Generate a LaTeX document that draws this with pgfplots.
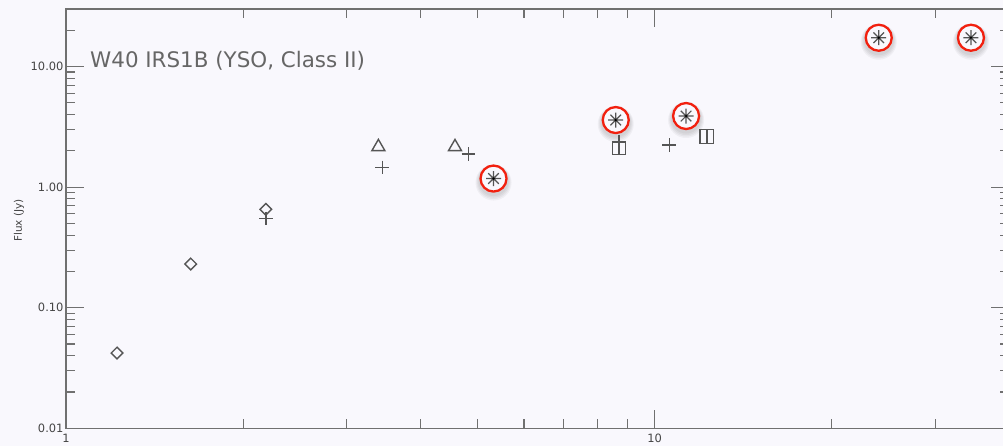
\documentclass[border=0pt]{standalone}
\usepackage{fontspec}
\setmainfont{DejaVu Sans}
\usepackage{pgfplots}
\pgfplotsset{compat=1.18}

\definecolor{bgc}{HTML}{F9F8FD}
\definecolor{axisgray}{HTML}{707070}
\definecolor{markgray}{HTML}{555555}
\definecolor{ringred}{HTML}{F2200F}
\definecolor{titlegray}{HTML}{666666}
\definecolor{labelgray}{HTML}{444444}

% diamond drawn as a square turned by 45 degrees
\pgfdeclareplotmark{rdiamond}{%
  \pgfpathmoveto{\pgfqpoint{0pt}{\pgfplotmarksize}}%
  \pgfpathlineto{\pgfqpoint{\pgfplotmarksize}{0pt}}%
  \pgfpathlineto{\pgfqpoint{0pt}{-\pgfplotmarksize}}%
  \pgfpathlineto{\pgfqpoint{-\pgfplotmarksize}{0pt}}%
  \pgfpathclose
  \pgfusepathqstroke
}
% square with a vertical bar through its middle
\pgfdeclareplotmark{splitsq}{%
  \pgfpathrectangle{\pgfqpoint{-\pgfplotmarksize}{-\pgfplotmarksize}}%
    {\pgfqpoint{2\pgfplotmarksize}{2\pgfplotmarksize}}%
  \pgfpathmoveto{\pgfqpoint{0pt}{-\pgfplotmarksize}}%
  \pgfpathlineto{\pgfqpoint{0pt}{\pgfplotmarksize}}%
  \pgfusepathqstroke
}
% eight-spoke asterisk with a dark centre
\pgfdeclareplotmark{star8}{%
  \pgfpathmoveto{\pgfqpoint{-\pgfplotmarksize}{0pt}}%
  \pgfpathlineto{\pgfqpoint{\pgfplotmarksize}{0pt}}%
  \pgfpathmoveto{\pgfqpoint{0pt}{-\pgfplotmarksize}}%
  \pgfpathlineto{\pgfqpoint{0pt}{\pgfplotmarksize}}%
  \pgfpathmoveto{\pgfqpoint{-.7071\pgfplotmarksize}{-.7071\pgfplotmarksize}}%
  \pgfpathlineto{\pgfqpoint{.7071\pgfplotmarksize}{.7071\pgfplotmarksize}}%
  \pgfpathmoveto{\pgfqpoint{-.7071\pgfplotmarksize}{.7071\pgfplotmarksize}}%
  \pgfpathlineto{\pgfqpoint{.7071\pgfplotmarksize}{-.7071\pgfplotmarksize}}%
  \pgfusepathqstroke
  \pgfsetfillcolor{black}%
  \pgfpathcircle{\pgfpointorigin}{1.3bp}%
  \pgfusepathqfill
}
% red ring with a soft shadow underneath
\pgfdeclareplotmark{halo}{%
  \pgfsetfillcolor{black}%
  \pgfsetfillopacity{0.04}%
  \pgfpathcircle{\pgfqpoint{0bp}{-4bp}}{18bp}\pgfusepathqfill
  \pgfpathcircle{\pgfqpoint{0bp}{-3.5bp}}{17bp}\pgfusepathqfill
  \pgfpathcircle{\pgfqpoint{0bp}{-3bp}}{16bp}\pgfusepathqfill
  \pgfpathcircle{\pgfqpoint{0bp}{-2.5bp}}{15bp}\pgfusepathqfill
  \pgfsetfillopacity{1}%
  \pgfsetfillcolor{bgc}%
  \pgfpathcircle{\pgfpointorigin}{13bp}\pgfusepathqfill
  \pgfsetstrokecolor{ringred}%
  \pgfsetlinewidth{2.3bp}%
  \pgfpathcircle{\pgfpointorigin}{13bp}\pgfusepathqstroke
}

\begin{document}
\begin{tikzpicture}
\fill[bgc] (-66bp,-17.7bp) rectangle (937bp,428.3bp);
\begin{axis}[
  at={(0,0)}, anchor=south west,
  scale only axis, width=943bp, height=419.3bp,
  xmode=log, ymode=log,
  xmin=1, xmax=40, ymin=0.01, ymax=30,
  xtick={1,10}, xticklabels={1,10},
  minor xtick={2,3,4,5,6,7,8,9,20,30},
  ytick={0.01,0.1,1,10}, yticklabels={0.01,0.10,1.00,10.00},
  minor ytick={0.02,0.03,0.04,0.05,0.06,0.07,0.08,0.09,
               0.2,0.3,0.4,0.5,0.6,0.7,0.8,0.9,
               2,3,4,5,6,7,8,9,20},
  major tick length=18bp, minor tick length=9bp,
  tick style={axisgray, line width=1.1bp},
  axis line style={axisgray, line width=1.3bp},
  ticklabel style={font=\fontsize{11.5}{12}\selectfont, text=labelgray},
  yticklabel style={xshift=1bp},
  xticklabel style={yshift=-2bp},
  /pgf/number format/assume math mode=true,
  ylabel={Flux (Jy)},
  every axis y label/.style={at={(rel axis cs:0,0.5)},
    xshift=-47bp, yshift=-2bp, rotate=90, anchor=center,
    font=\fontsize{10.5}{11}\selectfont, text=labelgray},
  clip=false,
  every axis plot/.append style={only marks, line width=1.4bp, color=markgray},
]
% halos behind the asterisk points
\addplot[mark=halo] coordinates {
  (5.325,1.178) (8.589,3.60) (11.31,3.886) (24.03,17.33) (34.47,17.33)};
% diamonds
\addplot[mark=rdiamond, mark size=5.8bp] coordinates {
  (1.221,0.0421) (1.629,0.2303) (2.185,0.6546)};
% crosses
\addplot[mark=+, mark size=6.8bp] coordinates {
  (2.185,0.551) (3.446,1.459) (4.826,1.882) (8.70,2.366) (10.59,2.234)};
% triangles
\addplot[mark=triangle, mark size=7.5bp] coordinates {
  (3.394,2.155) (4.58,2.155)};
% squares
\addplot[mark=splitsq, mark size=6.8bp, line width=1.3bp] coordinates {
  (8.70,2.11) (12.27,2.628)};
% asterisks
\addplot[mark=star8, mark size=7.5bp, line width=1.2bp] coordinates {
  (5.325,1.178) (8.589,3.60) (11.31,3.886) (24.03,17.33) (34.47,17.33)};

\node[anchor=base west, inner sep=0pt, text=titlegray,
      font=\fontsize{21.5}{24}\selectfont]
  at (rel axis cs:0.02545,0.8593) {W40 IRS1B (YSO, Class II)};
\end{axis}
\pgfresetboundingbox
\useasboundingbox (-66bp,-17.7bp) rectangle (937bp,428.3bp);
\end{tikzpicture}
\end{document}
